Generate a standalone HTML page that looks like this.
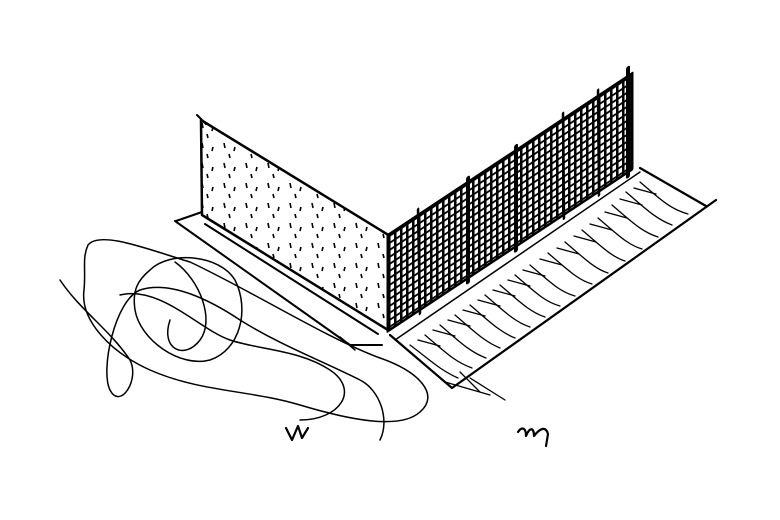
<!DOCTYPE html>
<html><head><meta charset="utf-8"><style>
html,body{margin:0;padding:0;background:#fff;width:780px;height:520px;overflow:hidden}
</style></head><body>
<svg width="780" height="520" viewBox="0 0 780 520" xmlns="http://www.w3.org/2000/svg">
<defs>
<pattern id="grid" width="6" height="7" patternUnits="userSpaceOnUse">
<rect width="6" height="7" fill="#fff"/>
<line x1="1" y1="0" x2="1" y2="7" stroke="#000" stroke-width="3"/>
<line x1="0" y1="2" x2="6" y2="2" stroke="#000" stroke-width="2.2"/>
</pattern>
<pattern id="dots" width="22" height="20" patternUnits="userSpaceOnUse">
<rect width="22" height="20" fill="#fff"/>
<line x1="4" y1="3" x2="5" y2="8" stroke="#000" stroke-width="1.6"/>
<line x1="15" y1="7" x2="14" y2="11" stroke="#000" stroke-width="1.6"/>
<line x1="9" y1="14" x2="10" y2="18" stroke="#000" stroke-width="1.6"/>
</pattern>
</defs>
<g fill="none" stroke="#000" stroke-linecap="round" stroke-linejoin="round">
<polygon points="201,120 390,236 388,330 202,215" fill="url(#dots)" stroke-width="2.5"/>
<line x1="197" y1="115" x2="206" y2="124" stroke-width="2"/>
<path d="M175,221 L350,345 L382,345 M176,221 L202,212 M205,224 L378,334" stroke-width="2"/>
<path d="M340,337 L355,350" stroke-width="1.5"/>
<g transform="translate(388,235) skewY(-33.5)">
<rect x="0" y="0" width="244" height="96" fill="url(#grid)" stroke="#000" stroke-width="3"/>
<line x1="80" y1="-4" x2="80" y2="100" stroke-width="4"/>
<line x1="128" y1="-4" x2="128" y2="100" stroke-width="4"/>
<line x1="240" y1="-8" x2="240" y2="100" stroke-width="4"/>
<line x1="30" y1="-6" x2="32" y2="100" stroke-width="2.5"/>
<line x1="175" y1="-6" x2="176" y2="100" stroke-width="2.5"/>
<line x1="210" y1="-6" x2="211" y2="100" stroke-width="2.5"/>
</g>
<path d="M390,335 L452,388 L716,200 M640,168 L706,206" stroke-width="2.2"/>
<path d="M395,340 L640,172" stroke-width="1.5"/>
<g stroke-width="1.3">
<path d="M410,345 C430,360 440,370 458,378"/>
<path d="M425,335 C445,352 455,362 472,368"/>
<path d="M440,325 C460,342 470,352 486,358"/>
<path d="M455,315 C475,332 485,342 500,348"/>
<path d="M470,305 C490,322 500,332 515,338"/>
<path d="M485,295 C505,312 515,322 530,327"/>
<path d="M500,285 C520,302 530,312 545,317"/>
<path d="M515,275 C535,292 545,302 560,306"/>
<path d="M530,265 C550,282 560,292 575,296"/>
<path d="M548,253 C568,270 578,280 592,284"/>
<path d="M565,242 C585,259 595,269 608,273"/>
<path d="M582,230 C602,247 612,257 625,261"/>
<path d="M598,218 C618,235 628,245 642,249"/>
<path d="M612,205 C632,222 642,232 658,237"/>
<path d="M626,192 C646,209 656,219 672,225"/>
<path d="M640,182 C660,199 670,209 688,214"/>
<path d="M418,340 L440,346 M433,330 L455,336 M448,320 L470,326 M463,310 L485,316 M478,300 L500,306 M493,290 L515,296 M508,280 L530,286 M523,270 L545,276 M540,259 L562,265 M557,248 L579,254 M574,236 L596,242 M590,224 L612,230 M605,212 L627,218 M620,199 L642,205 M634,188 L656,194"/>
<path d="M445,382 L490,395 M470,378 L505,400 M460,372 L480,392"/>
</g>
<g stroke-width="1.5">
<path d="M88,245 C100,230 150,250 190,262 C250,290 330,340 380,358 C420,372 440,395 420,412 C400,430 350,420 300,405 C250,390 200,392 150,370 C110,352 80,320 84,290 C86,270 82,258 88,245 Z"/>
<path d="M150,270 C170,250 220,255 235,280 C250,310 240,350 210,360 C180,368 140,340 135,310 C132,290 138,280 150,270 Z"/>
<path d="M60,280 C80,310 110,330 130,360 C140,380 120,410 110,390 C100,370 115,300 140,290 C170,280 210,300 240,320 C280,345 320,360 360,380 C380,390 390,420 380,440"/>
<path d="M120,295 C160,285 200,330 230,340 C260,350 300,350 330,370 C360,390 340,420 300,420"/>
<path d="M175,262 C200,280 215,320 200,340 C185,360 160,350 170,320"/>
</g>
<path d="M286,428 L292,440 L298,426 L302,438 L308,428" stroke-width="2.2"/>
<path d="M518,432 C522,426 526,428 526,436 C530,426 534,428 534,436 C540,428 546,426 548,434 L546,446" stroke-width="2.2"/>
</g>
</svg>
</body></html>
